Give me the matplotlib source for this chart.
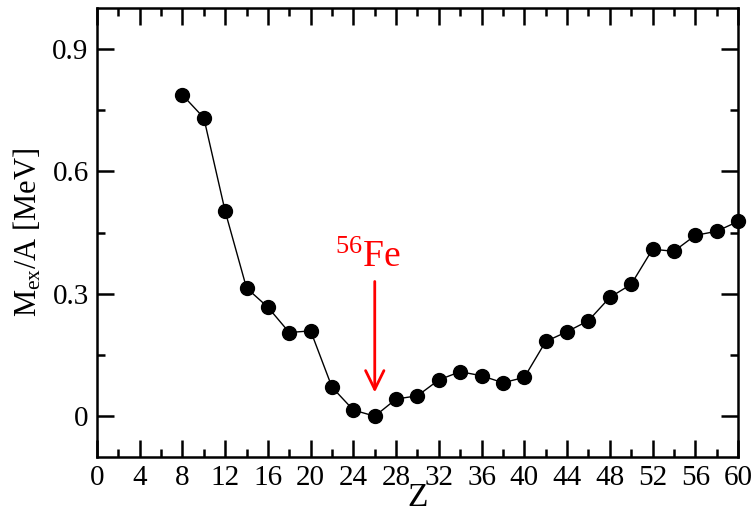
import matplotlib
import matplotlib.pyplot as plt
from matplotlib.ticker import MultipleLocator

matplotlib.use('Agg')

plt.rcParams['font.family'] = ['Liberation Serif', 'DejaVu Serif']
plt.rcParams['mathtext.fontset'] = 'custom'
plt.rcParams['mathtext.rm'] = 'Liberation Serif'
plt.rcParams['mathtext.it'] = 'Liberation Serif:italic'

Z = [8, 10, 12, 14, 16, 18, 20, 22, 24, 26, 28, 30, 32, 34, 36, 38, 40,
     42, 44, 46, 48, 50, 52, 54, 56, 58, 60]
mex_a = [0.787, 0.731, 0.502, 0.314, 0.267, 0.205, 0.209, 0.071, 0.015, 0.0,
         0.042, 0.050, 0.089, 0.109, 0.099, 0.082, 0.095,
         0.183, 0.207, 0.234, 0.291, 0.323, 0.409, 0.404, 0.443, 0.453, 0.477]

fig = plt.figure(figsize=(7.54, 5.14), dpi=100)
ax = fig.add_axes([0.1286, 0.1109, 0.8502, 0.8735])

ax.plot(Z, mex_a, '-o', color='black', lw=1.0, ms=10, clip_on=False, zorder=3)

# arrow pointing at 56Fe
ax.annotate('', xy=(26, 0.058), xytext=(26, 0.33),
            arrowprops=dict(arrowstyle='->,head_length=0.45,head_width=0.22',
                            color='red', lw=2,
                            mutation_scale=30, shrinkA=0, shrinkB=0))
ax.text(25.4, 0.345, r'$^{56}$Fe', color='red', fontsize=27,
        ha='center', va='bottom')

ax.set_xlim(0, 60)
ax.set_ylim(-0.1, 1.0)
ax.xaxis.set_major_locator(MultipleLocator(4))
ax.xaxis.set_minor_locator(MultipleLocator(2))
ax.yaxis.set_minor_locator(MultipleLocator(0.15))
ax.set_yticks([0, 0.3, 0.6, 0.9])
ax.set_yticklabels(['0', '0.3', '0.6', '0.9'])

ax.tick_params(which='both', direction='in', top=True, right=True,
               labelsize=21, width=1.8)
ax.tick_params(which='major', length=12, pad=6)
ax.tick_params(which='minor', length=6)
for s in ax.spines.values():
    s.set_linewidth(1.8)

ax.set_xlabel('Z', fontsize=24, labelpad=-6)
ax.set_ylabel(r'M$_{\rm ex}$/A [MeV]', fontsize=22, labelpad=6)

fig.savefig('out.png', dpi=100)
